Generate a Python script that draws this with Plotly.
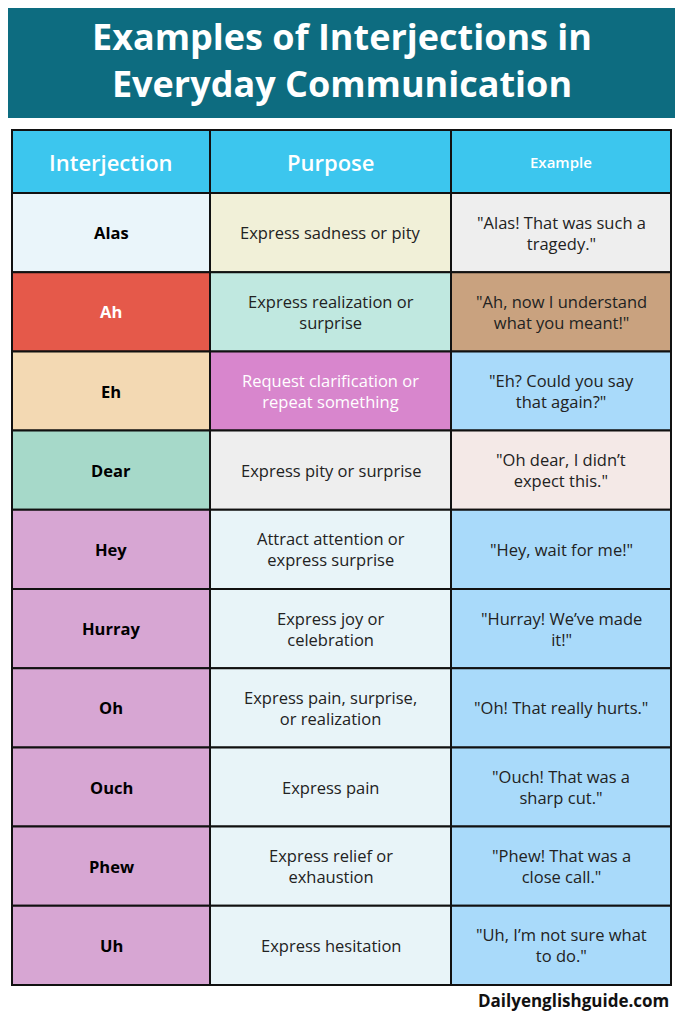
import plotly.graph_objects as go

headers = ["Interjection", "Purpose", "Example"]
interjections = ["Alas", "Ah", "Eh", "Dear", "Hey", "Hurray", "Oh", "Ouch", "Phew", "Uh"]
purposes = ["Express sadness or pity", "Express realization or<br>surprise",
            "Request clarification or<br>repeat something", "Express pity or surprise",
            "Attract attention or<br>express surprise", "Express joy or<br>celebration",
            "Express pain, surprise,<br>or realization", "Express pain",
            "Express relief or<br>exhaustion", "Express hesitation"]
examples = ["\"Alas! That was such a<br>tragedy.\"", "\"Ah, now I understand<br>what you meant!\"",
            "\"Eh? Could you say<br>that again?\"", "\"Oh dear, I didn’t<br>expect this.\"",
            "\"Hey, wait for me!\"", "\"Hurray! We’ve made<br>it!\"",
            "\"Oh! That really hurts.\"", "\"Ouch! That was a<br>sharp cut.\"",
            "\"Phew! That was a<br>close call.\"", "\"Uh, I’m not sure what<br>to do.\""]

fill1 = ["#eaf5fa", "#e5594a", "#f3d9b3", "#a6d9c9"] + ["#d7a6d3"] * 6
fill2 = ["#f1f0d8", "#c0e8e0", "#d886cd", "#eeeeee"] + ["#e8f4f8"] * 6
fill3 = ["#eeeeee", "#c9a27f", "#a9dafa", "#f4e9e7"] + ["#a9dafa"] * 6
txt1 = ["black", "white"] + ["black"] * 8
txt2 = ["#222", "#222", "white"] + ["#222"] * 7

col_x = [12, 210, 451, 671]
top, head_h, row_h = 130, 63, 79.2
OFF = 8  # page body margin

fig = go.Figure()
shapes, annos = [], []
cols = [interjections, purposes, examples]
fills = [fill1, fill2, fill3]
tcols = [txt1, txt2, ["#222"] * 10]
for c in range(3):
    x0, x1 = col_x[c], col_x[c + 1]
    shapes.append(dict(type="rect", x0=x0, x1=x1, y0=top, y1=top + head_h,
                       fillcolor="#3cc6ee", line=dict(color="#111", width=2)))
    annos.append(dict(x=(x0 + x1) / 2, y=top + head_h / 2, text=headers[c],
                      showarrow=False, font=dict(family="Open Sans", size=15 if c == 2 else 22,
                                                 color="white", weight=600)))
    for r, v in enumerate(cols[c]):
        y0 = top + head_h + r * row_h
        shapes.append(dict(type="rect", x0=x0, x1=x1, y0=y0, y1=y0 + row_h,
                           fillcolor=fills[c][r], line=dict(color="#111", width=2)))
        txt = f"<b>{v}</b>" if c == 0 else v.replace("<br>", "<br><span style='font-size:4px'> </span><br>")
        annos.append(dict(x=(x0 + x1) / 2, y=y0 + row_h / 2, text=f"<b>{v}</b>" if c == 0 else v,
                          showarrow=False, align="center",
                          font=dict(family="Open Sans", size=16.5, color=tcols[c][r],
                                    lineposition="none")))

shapes.insert(0, dict(type="rect", x0=5, x1=678, y0=3, y1=118, fillcolor="#0d6c80",
                      line=dict(width=0)))
annos.append(dict(x=341.5, y=60, text="<b>Examples of Interjections in<br>Everyday Communication</b>",
                  showarrow=False, font=dict(family="Open Sans", size=36, color="white")))
annos.append(dict(x=671, y=1000, xanchor="right", text="<b>Dailyenglishguide.com</b>",
                  showarrow=False, font=dict(family="Open Sans", size=17, color="#111")))

fig.update_layout(width=683 - 2 * OFF, height=1024 - 2 * OFF, margin=dict(l=0, r=0, t=0, b=0),
                  paper_bgcolor="white", plot_bgcolor="white", shapes=shapes, annotations=annos,
                  xaxis=dict(range=[OFF, 683 - OFF], visible=False, fixedrange=True),
                  yaxis=dict(range=[1024 - OFF, OFF], visible=False, fixedrange=True))
fig.write_html("out.html")
